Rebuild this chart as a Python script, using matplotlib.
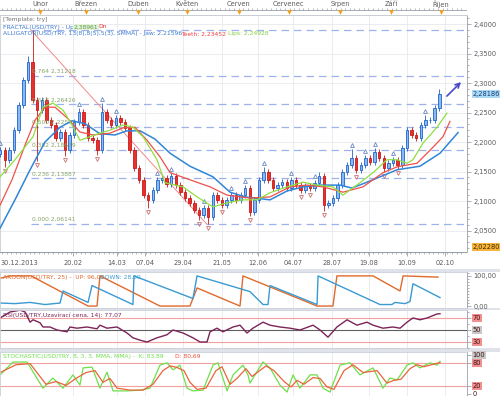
import numpy as np
import matplotlib.pyplot as plt
from matplotlib.patches import Rectangle, FancyArrowPatch
from matplotlib.ticker import MultipleLocator, FuncFormatter

W, H = 500, 396

# ---------------- data (x = day of year 2014) ----------------
candle_first, candle_last = 7, 272
first_open = 2.180
closes = [2.186, 2.170, 2.186, 2.221, 2.263, 2.305, 2.336, 2.271, 2.254, 2.271,
          2.237, 2.229, 2.207, 2.217, 2.186, 2.212, 2.234, 2.251, 2.229, 2.207,
          2.203, 2.186, 2.251, 2.237, 2.229, 2.241, 2.234, 2.224, 2.186, 2.156,
          2.136, 2.110, 2.102, 2.119, 2.136, 2.139, 2.129, 2.143, 2.127, 2.115,
          2.105, 2.097, 2.085, 2.076, 2.088, 2.073, 2.110, 2.102, 2.093, 2.102,
          2.110, 2.102, 2.110, 2.122, 2.081, 2.102, 2.136, 2.149, 2.136, 2.122,
          2.127, 2.132, 2.122, 2.136, 2.127, 2.119, 2.125, 2.122, 2.130, 2.142,
          2.093, 2.097, 2.105, 2.127, 2.149, 2.161, 2.173, 2.152, 2.161, 2.173,
          2.166, 2.183, 2.173, 2.156, 2.164, 2.170, 2.161, 2.190, 2.221, 2.212,
          2.207, 2.229, 2.237, 2.237, 2.258, 2.282]
wick = 0.005
high_over = {6: 2.345, 7: 2.3896, 17: 2.258, 22: 2.266, 57: 2.157, 69: 2.150,
             76: 2.188, 81: 2.190, 92: 2.245, 95: 2.290}
low_over = {1: 2.158, 8: 2.168, 14: 2.176, 21: 2.178, 32: 2.088, 43: 2.068,
            45: 2.0614, 54: 2.075, 70: 2.083, 77: 2.148, 83: 2.150, 86: 2.155}
fractal_up = [0, 17, 22, 25, 34, 37, 44, 50, 53, 57, 63, 68, 76, 79, 81, 85, 92]
fractal_dn = [1, 8, 14, 21, 32, 43, 45, 48, 54, 65, 67, 70, 77, 83, 86]

jaw_days = [6.9, 15.9, 25.0, 34.0, 43.1, 50.3, 58.2, 67.2, 76.3, 83.5, 91.4, 100.4, 109.5,
            121.5, 135.4, 145.7, 154.7, 169.8, 180.1, 189.7, 200.0, 212.1, 219.3, 230.2,
            246.5, 260.3, 272.4, 283.3]
jaw_vals = [2.054, 2.102, 2.153, 2.200, 2.225, 2.236, 2.231, 2.214, 2.212, 2.219, 2.219, 2.205,
            2.181, 2.159, 2.141, 2.115, 2.107, 2.102, 2.117, 2.124, 2.127, 2.127, 2.122, 2.134,
            2.153, 2.159, 2.181, 2.216]
teeth_days = [6.9, 14.1, 22.0, 28.0, 34.0, 40.1, 47.3, 55.1, 63.0, 73.2, 81.1, 88.3, 95.6,
              103.4, 109.5, 121.5, 133.6, 143.9, 157.7, 169.8, 181.9, 192.1, 201.8, 213.9,
              225.9, 238.0, 246.5, 258.5, 266.4, 274.2, 278.4]
teeth_vals = [2.093, 2.136, 2.195, 2.237, 2.259, 2.259, 2.241, 2.217, 2.212, 2.215, 2.224,
              2.225, 2.203, 2.175, 2.148, 2.136, 2.124, 2.110, 2.105, 2.107, 2.124, 2.127,
              2.124, 2.115, 2.124, 2.148, 2.158, 2.164, 2.186, 2.209, 2.235]
lips_days = [6.9, 15.9, 26.8, 32.8, 38.8, 44.9, 50.3, 55.1, 61.2, 67.2, 73.2, 81.1, 87.1,
             93.2, 101.6, 106.4, 117.3, 125.8, 135.4, 143.9, 153.5, 162.0, 169.8, 180.1,
             189.7, 198.2, 207.8, 213.9, 224.1, 232.0, 240.4, 246.5, 252.5, 256.1, 262.1,
             270.6, 276.6]
lips_vals = [2.141, 2.170, 2.209, 2.259, 2.266, 2.254, 2.229, 2.203, 2.209, 2.215, 2.220,
             2.229, 2.225, 2.209, 2.170, 2.131, 2.124, 2.107, 2.090, 2.097, 2.102, 2.102,
             2.114, 2.124, 2.132, 2.127, 2.124, 2.110, 2.131, 2.148, 2.170, 2.170, 2.164,
             2.170, 2.198, 2.225, 2.249]

fib_levels = ['0.000', '0.236', '0.382', '0.500', '0.618', '0.764', '1.000']
fib_values = [2.06141, 2.13887, 2.18679, 2.22553, 2.26426, 2.31218, 2.38961]
fib_anchor = [(25.6, 2.38961), (131.5, 2.06141)]

aroon_up_days = [6.9, 12.9, 25.6, 60.0, 65.4, 67.2, 103.4, 121.5, 125.8, 151.7, 153.5, 198.2,
                 207.8, 210.2, 232.0, 248.3, 250.1, 271.2]
aroon_up = [92, 100, 100, 0, 0, 100, 0, 0, 60, 0, 100, 0, 0, 100, 100, 50, 100, 96]
aroon_dn_days = [6.9, 15.9, 25.0, 34.0, 43.1, 44.9, 60.0, 62.4, 87.1, 87.7, 123.3, 125.8,
                 157.7, 165.6, 168.6, 169.8, 198.2, 198.8, 236.2, 243.4, 245.2, 251.3, 254.3,
                 256.1, 272.4]
aroon_dn = [10, 8, 12, 5, 10, 50, 12, 68, 5, 100, 25, 100, 48, 5, 5, 68, 5, 100, 5, 5, 12, 8,
            15, 74, 28]

rsi_days = [6.9, 12.9, 19.0, 22.0, 25.0, 26.8, 31.0, 32.8, 37.0, 41.3, 47.3, 49.1, 53.3, 59.4,
            65.4, 67.2, 71.4, 77.5, 83.5, 87.1, 91.4, 95.6, 101.6, 107.6, 111.3, 117.3, 123.3,
            127.6, 131.8, 133.6, 137.8, 141.4, 147.5, 151.7, 155.9, 159.5, 165.6, 169.8, 175.8,
            181.9, 187.9, 195.8, 200.0, 204.8, 210.2, 216.3, 222.3, 228.3, 232.0, 238.0, 244.0,
            248.3, 252.5, 256.1, 260.3, 264.6, 270.6, 272.4]
rsi = [70, 80, 83, 80, 63, 67, 62, 55, 55, 50, 47, 55, 53, 55, 52, 58, 53, 55, 45, 37, 33, 30,
       37, 42, 50, 45, 37, 30, 30, 47, 53, 47, 55, 58, 45, 53, 63, 58, 55, 53, 50, 58, 50, 38,
       55, 67, 58, 63, 58, 53, 55, 53, 63, 70, 67, 70, 76.7, 77.07]

stoch_k_days = [6.9, 14.7, 23.2, 32.8, 38.8, 44.9, 50.9, 55.1, 57.0, 62.4, 67.2, 71.4, 75.1,
                83.5, 91.4, 97.4, 103.4, 107.6, 111.3, 115.5, 119.7, 123.3, 129.4, 135.4, 138.4,
                143.9, 147.5, 153.5, 156.5, 157.7, 165.6, 169.8, 175.8, 180.1, 183.7, 187.9,
                194.0, 198.2, 201.8, 206.0, 212.1, 218.1, 224.1, 232.0, 238.0, 242.2, 246.5,
                252.5, 256.1, 260.3, 266.4, 270.6, 272.4]
stoch_k = [49, 82, 82, 15, 41, 15, 49, 23, 67, 69, 15, 56, 8, 8, 10, 15, 74, 80, 62, 74, 15,
           8, 10, 74, 80, 8, 49, 74, 49, 28, 82, 67, 23, 5, 49, 15, 49, 49, 15, 5, 74, 80, 49,
           67, 15, 41, 36, 74, 80, 67, 80, 74, 83.89]
stoch_d_days = [6.9, 16.5, 25.0, 34.6, 40.7, 46.7, 52.7, 58.8, 64.2, 69.0, 73.2, 77.5, 85.3,
                93.2, 99.2, 105.2, 109.5, 113.7, 117.9, 121.5, 125.8, 131.2, 137.2, 140.8, 145.7,
                149.9, 155.3, 158.9, 167.4, 172.2, 178.3, 182.5, 186.1, 190.3, 195.8, 200.0,
                204.2, 208.4, 214.5, 219.9, 226.0, 234.4, 240.4, 244.6, 248.9, 254.3, 258.5,
                262.7, 268.2, 272.4]
stoch_d = [55, 75, 78, 25, 32, 22, 40, 55, 60, 30, 40, 15, 10, 10, 25, 60, 72, 68, 60, 30, 12,
           15, 60, 70, 25, 40, 65, 45, 72, 60, 32, 18, 35, 25, 42, 40, 18, 12, 60, 75, 55, 60,
           28, 35, 38, 65, 75, 70, 76, 80.69]

month_names = ['Únor', 'Březen', 'Duben', 'Květen', 'Červen', 'Červenec', 'Srpen', 'Září', 'Říjen']
month_days = [31, 59, 90, 120, 151, 181, 212, 243, 273]
date_labels = ['20.02', '14.03', '07.04', '29.04', '21.05', '12.06', '04.07', '28.07',
               '19.08', '10.09', '02.10']
date_days = [50.9, 77.5, 94.4, 117.3, 140.8, 162.6, 183.7, 207.2, 229.5, 252.5, 275.4]

# ---------------- layout ----------------
XMIN, XMAX = 6.86, 288.7
GRID = '#e6e9ee'
BORDER = '#c9ced6'
TXT = '#5a5a5a'

fig = plt.figure(figsize=(W / 100, H / 100), dpi=100, facecolor='white')


def px_axes(left, top, right, bottom):
    return fig.add_axes([left / W, 1 - bottom / H, (right - left) / W, (bottom - top) / H])


def fx(x):
    return x / W


def fy(y):
    return 1 - y / H


def comma(fmt):
    return FuncFormatter(lambda v, _: format(v, fmt).replace('.', ','))


def style_panel(ax):
    ax.set_xlim(XMIN, XMAX)
    ax.set_facecolor('white')
    for s in ax.spines.values():
        s.set_color(BORDER)
        s.set_linewidth(0.6)
    ax.spines['right'].set_color('#9aa0a8')
    ax.tick_params(axis='x', bottom=False, labelbottom=False)
    ax.yaxis.tick_right()
    ax.tick_params(axis='y', which='both', direction='out', colors='#8a8f96',
                   labelsize=4.8, labelcolor=TXT, pad=1.5, width=0.5)
    ax.tick_params(axis='y', which='major', length=3)
    ax.tick_params(axis='y', which='minor', length=1.5)
    for d in date_days:
        ax.axvline(d, color=GRID, lw=0.6, zorder=0)


# gray separators between panels
for top, bot in [(269, 272), (308, 310), (348, 352)]:
    fig.patches.append(Rectangle((0, 1 - bot / H), 1, (bot - top) / H, transform=fig.transFigure,
                                 facecolor='#dfe3e9', edgecolor='none', zorder=-1))

# ---------------- main price panel ----------------
ax = px_axes(0, 15, 467, 252)
style_panel(ax)
ax.set_ylim(2.0136, 2.4153)
ax.yaxis.set_major_locator(MultipleLocator(0.05))
ax.yaxis.set_minor_locator(MultipleLocator(0.01))
ax.yaxis.set_major_formatter(comma('.4f'))
for v in np.arange(2.05, 2.41, 0.05):
    ax.axhline(v, color=GRID, lw=0.6, zorder=0)

# fibonacci retracement
for lvl, val in zip(fib_levels, fib_values):
    ax.plot([fib_anchor[0][0], XMAX], [val, val], color='#9db2ea', lw=0.9,
            dashes=(6, 4), zorder=1)
    if lvl != '1.000':
        ax.text(fib_anchor[0][0] + 0.5, val + 0.003, f"{lvl} {val:.5f}".replace('2.', '2,'),
                fontsize=4.3, color='#86a56a', va='bottom', ha='left', zorder=5)
ax.plot([p[0] for p in fib_anchor], [p[1] for p in fib_anchor], color='#f08a8a', lw=0.7, zorder=2)

# candles
n = len(closes)
days = np.linspace(candle_first, candle_last, n)
opens = [first_open] + closes[:-1]
bw = 1.5
for i in range(n):
    o, c = opens[i], closes[i]
    hi = high_over.get(i, max(o, c) + wick)
    lo = low_over.get(i, min(o, c) - wick)
    up = c >= o
    face = '#8ab8f0' if up else '#e8302c'
    edge = '#1f63c8' if up else '#c81818'
    ax.vlines(days[i], lo, hi, color=edge, lw=0.6, zorder=3)
    ax.add_patch(Rectangle((days[i] - bw / 2, min(o, c)), bw, max(abs(c - o), 0.001),
                           facecolor=face, edgecolor=edge, lw=0.6, zorder=4))
    if i in fractal_up:
        ax.plot(days[i], hi + 0.007, marker='^', ms=2.8, mfc='none', mec='#6a86c0', mew=0.6,
                zorder=5)
    if i in fractal_dn:
        ax.plot(days[i], lo - 0.007, marker='v', ms=2.8, mfc='none', mec='#d07070', mew=0.6,
                zorder=5)

# alligator
ax.plot(jaw_days, jaw_vals, color='#2f86d8', lw=1.1, zorder=6)
ax.plot(teeth_days, teeth_vals, color='#f0504a', lw=0.9, zorder=6)
ax.plot(lips_days, lips_vals, color='#8ee040', lw=0.9, zorder=6)

ax.add_patch(FancyArrowPatch((275.4, 2.2746), (286.3, 2.305), arrowstyle='->',
                             mutation_scale=8, color='#4848c8', lw=1.2, zorder=7))

trans = ax.get_yaxis_transform()
ax.text(1.012, 2.28186, '2,28186', transform=trans, fontsize=4.8, color='#1a3a70', va='center',
        ha='left', bbox=dict(boxstyle='square,pad=0.15', fc='#a8daf8', ec='none'))
ax.text(1.012, 2.0228, '2,02280', transform=trans, fontsize=4.8, color='#3a2a00', va='center',
        ha='left', bbox=dict(boxstyle='square,pad=0.15', fc='#f8b43c', ec='none'))

# legend texts
fig.text(fx(3), fy(20), '[Template: try]', fontsize=4.3, color='#707070', va='center')
fig.text(fx(3), fy(27), 'FRACTAL(USD/TRY) - Up:', fontsize=4.3, color='#3a7ad0', va='center')
fig.text(fx(74), fy(27), '2,38961', fontsize=4.3, color='#6a9a50', va='center',
         bbox=dict(boxstyle='square,pad=0.1', fc='#e0f2d8', ec='none'))
fig.text(fx(98), fy(27), 'Dn', fontsize=4.3, color='#e03030', va='center')
fig.text(fx(3), fy(34), 'ALLIGATOR(USD/TRY, 13(8),8(5),5(3), SMMA) - Jaw: 2,21596',
         fontsize=4.3, color='#3a7ad0', va='center')
fig.text(fx(181), fy(34), 'Teeth: 2,23452', fontsize=4.3, color='#f04040', va='center')
fig.text(fx(228), fy(34), 'Lips: 2,24928', fontsize=4.3, color='#80d040', va='center')

# ---------------- top month axis ----------------
tax = px_axes(0, 0, 467, 15)
tax.set_xlim(XMIN, XMAX)
tax.set_ylim(0, 15)
tax.axis('off')
tax.axhline(5, color='#9aa0a8', lw=0.6)
tax.vlines(np.arange(8, 288, 2.8), 5, 7, color='#9aa0a8', lw=0.5)
for name, d in zip(month_names, month_days):
    tax.text(d, 11, name, fontsize=4.8, color=TXT, ha='center', va='center')
    tax.plot(d, 3.2, marker='v', ms=3.5, color='#f0a020', mec='none')
fig.lines.append(plt.Line2D([0, 467 / W], [fy(15), fy(15)], transform=fig.transFigure,
                            color=BORDER, lw=0.6))

# ---------------- date axis ----------------
dax = px_axes(0, 252, 467, 269)
dax.set_xlim(XMIN, XMAX)
dax.set_ylim(17, 0)
dax.axis('off')
dax.axhline(0.3, color='#9aa0a8', lw=0.8)
dax.vlines(np.arange(8, 288, 2.8), 0, 2, color='#9aa0a8', lw=0.5)
dax.vlines(date_days, 0, 4, color='#9aa0a8', lw=0.6)
dax.text(XMIN + 0.3, 11, '30.12.2013', fontsize=4.8, color=TXT, ha='left', va='center')
for lab, d in zip(date_labels, date_days):
    dax.text(d, 11, lab, fontsize=4.8, color=TXT, ha='center', va='center')

# ---------------- aroon ----------------
aax = px_axes(0, 272, 467, 308)
style_panel(aax)
aax.set_ylim(-6.5, 112.9)
aax.set_yticks([0, 100])
aax.yaxis.set_minor_locator(MultipleLocator(10))
aax.yaxis.set_major_formatter(comma('.2f'))
aax.plot(aroon_up_days, aroon_up, color='#e0692c', lw=1.0)
aax.plot(aroon_dn_days, aroon_dn, color='#3a9ad2', lw=1.0)
aax.text(0.006, 0.86, 'AROON(USD/TRY, 25) -  UP: 96,00', transform=aax.transAxes, fontsize=4.3,
         color='#e0692c', va='center')
aax.text(0.215, 0.86, 'DOWN: 28,00', transform=aax.transAxes, fontsize=4.3, color='#3a9ad2',
         va='center')

# ---------------- rsi ----------------
rax = px_axes(0, 310, 467, 348)
style_panel(rax)
rax.set_ylim(20, 83.3)
rax.set_yticks([30, 50, 70])
rax.set_yticklabels([])
rax.yaxis.set_minor_locator(MultipleLocator(10))
rax.axhline(70, color='#f2a0a0', lw=0.8)
rax.axhline(30, color='#f2a0a0', lw=0.8)
rax.axhline(50, color='#606060', lw=0.8)
rax.plot(rsi_days, rsi, color='#7a2458', lw=1.0)
rtr = rax.get_yaxis_transform()
for v, fc in [(70, '#f09090'), (50, '#c8c8c8'), (30, '#f09090')]:
    rax.text(1.012, v, str(v), transform=rtr, fontsize=4.8, color='#4a1010', va='center',
             bbox=dict(boxstyle='square,pad=0.12', fc=fc, ec='none'))
rax.text(0.006, 0.86, 'RSI(USD/TRY,Uzavírací cena, 14): 77,07', transform=rax.transAxes,
         fontsize=4.3, color='#7a2458', va='center')

# ---------------- stochastic ----------------
sax = px_axes(0, 352, 467, 396)
style_panel(sax)
sax.set_ylim(-5.1, 107.7)
sax.set_yticks([0, 20, 80, 100])
sax.set_yticklabels([])
sax.axhline(80, color='#f2a0a0', lw=0.8)
sax.axhline(20, color='#f2a0a0', lw=0.8)
sax.plot(stoch_k_days, stoch_k, color='#6ee04a', lw=0.9)
sax.plot(stoch_d_days, stoch_d, color='#e8643c', lw=0.9)
str_ = sax.get_yaxis_transform()
for v, fc in [(100, '#c8c8c8'), (80, '#f09090'), (20, '#f09090'), (0, 'none')]:
    sax.text(1.012, v, str(v), transform=str_, fontsize=4.8, color='#3a1010', va='center',
             bbox=dict(boxstyle='square,pad=0.12', fc=fc, ec='none'))
sax.text(0.006, 0.9, 'STOCHASTIC(USD/TRY, 8, 3, 3, MMA, MMA) -  K: 83,89', transform=sax.transAxes,
         fontsize=4.3, color='#6ee04a', va='center')
sax.text(0.375, 0.9, 'D: 80,69', transform=sax.transAxes, fontsize=4.3, color='#e8503c',
         va='center')

fig.savefig('out.png', dpi=100, facecolor='white')
